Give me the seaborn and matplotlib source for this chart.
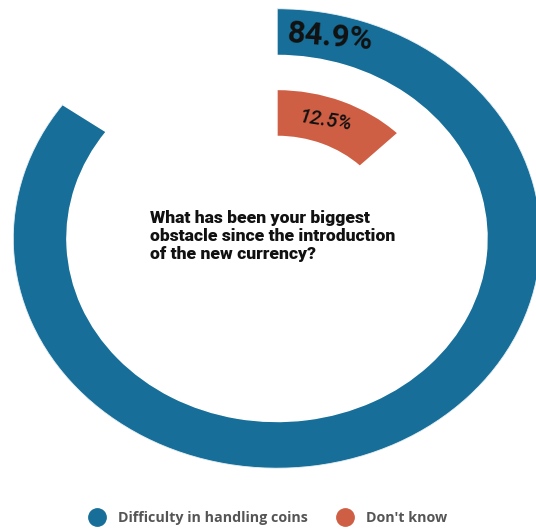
import numpy as np
import pandas as pd
import matplotlib
matplotlib.use("Agg")
import matplotlib.pyplot as plt
import seaborn as sns
from matplotlib.lines import Line2D

# Survey answers, innermost ring first
categories = ["Don't know", "Difficulty in handling coins"]
shares = [12.5, 84.9]
share_labels = ["12.5%", "84.9%"]
colors = ["#CF5F44", "#176F99"]
legend_order = ["Difficulty in handling coins", "Don't know"]
question = "What has been your biggest\nobstacle since the introduction\nof the new currency?"

sns.set_theme(style="white")

df = pd.DataFrame({"answer": categories, "share": shares})
# full circle = 100 %
df["theta"] = df["share"] / 100 * 2 * np.pi

fig = plt.figure(figsize=(5.36, 5.29), dpi=100)
ax = fig.add_axes([0.02425, 0.1144, 0.985, 0.8696], projection="polar")
ax.set_theta_zero_location("N")
ax.set_theta_direction(-1)

sns.barplot(
    data=df, x="theta", y="answer", hue="answer", order=categories,
    hue_order=categories, palette=colors, orient="y", width=0.58,
    saturation=1, errorbar=None, legend=False, ax=ax,
)

ax.set_ylim(-1.55, 1.29)
ax.set_xlim(0, 2 * np.pi)
ax.set_axis_off()
ax.set_aspect("auto")

# value labels sitting on each ring near its start
ax.text(np.deg2rad(13), 1, share_labels[1], rotation=-5, ha="center", va="center",
        fontsize=22.5, fontfamily="Roboto", fontweight="bold", color="#111111",
        rotation_mode="anchor")
ax.text(np.deg2rad(20), 0, share_labels[0], rotation=-9, ha="center", va="center",
        fontsize=14.5, fontfamily="Roboto", fontstyle="italic", fontweight="medium",
        color="#111111", rotation_mode="anchor")

fig.text(150 / 536, 1 - 210 / 529, question, ha="left", va="top",
         fontsize=12.6, fontfamily="Roboto", fontweight="heavy", color="#111111",
         linespacing=1.15)

color_of = dict(zip(categories, colors))
handles = [Line2D([], [], marker="o", linestyle="none", markersize=12.5,
                  markerfacecolor=color_of[c], markeredgecolor=color_of[c])
           for c in legend_order]
fig.legend(handles, legend_order, loc="center", bbox_to_anchor=(0.494, 1 - 518 / 529),
           ncol=2, frameon=False, handletextpad=0.45, columnspacing=1.6,
           prop={"family": "Open Sans", "weight": "bold", "size": 10.3},
           labelcolor="#555555")

fig.savefig("out.png", dpi=100, facecolor="white")
